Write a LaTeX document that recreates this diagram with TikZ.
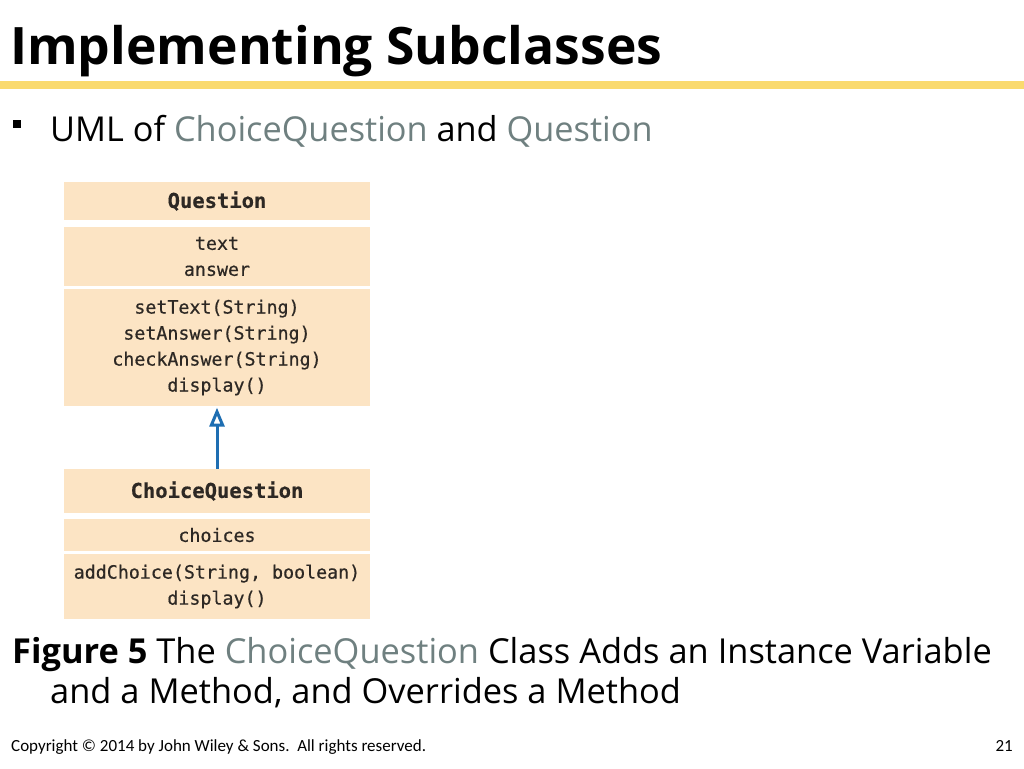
\documentclass[tikz,border=0pt]{standalone}
\usepackage{fontspec}
\setmainfont{Open Sans}
\newfontfamily\footfont{Carlito}
\newfontfamily\umlfont[FakeBold=0.6]{DejaVu Sans Mono}
\newfontfamily\umlboldfont[FakeBold=0.3]{DejaVu Sans Mono Bold}
\usetikzlibrary{arrows.meta}
\definecolor{peach}{RGB}{252,228,196}
\definecolor{greytxt}{RGB}{111,128,128}
\definecolor{rulecol}{RGB}{250,218,110}
\definecolor{umlblue}{RGB}{30,110,178}
\definecolor{umltxt}{RGB}{45,40,36}
\tikzset{
  umlbox/.style={fill=peach, draw=none, minimum width=306pt, inner sep=0pt,
    font=\umlfont\fontsize{18.3}{26}\selectfont, text=umltxt, align=center},
  umlhead/.style={umlbox, font=\umlboldfont\fontsize{20.5}{26}\selectfont},
  txt/.style={anchor=base west, inner sep=0pt},
}
\begin{document}
\begin{tikzpicture}[x=1pt,y=-1pt]
\useasboundingbox (0,0) rectangle (1024,768);
\fill[white] (0,0) rectangle (1024,768);
% title
\node[txt, font=\bfseries\fontsize{51.6}{60}\selectfont] (title) at (10,64) {Implementing Subclasses};
\fill[rulecol] (0,81) rectangle (1024,89);
% bullet
\fill[black] (13,120) rectangle (21,128);
\node[txt, font=\fontsize{34.3}{40}\selectfont] (bullet) at (50,141) {UML of \textcolor{greytxt}{ChoiceQuestion} and \textcolor{greytxt}{Question}};
% Question class
\node[umlhead, minimum height=38pt] (qh) at (217,201) {Question};
\node[umlbox, minimum height=59pt] (qa) at (217,256.5) {text\\answer};
\node[umlbox, minimum height=117pt] (qm) at (217,347.5) {setText(String)\\setAnswer(String)\\checkAnswer(String)\\display()};
% ChoiceQuestion class
\node[umlhead, minimum height=44pt] (ch) at (217,491) {ChoiceQuestion};
\node[umlbox, minimum height=32pt] (ca) at (217,535) {choices};
\node[umlbox, minimum height=65pt] (cm) at (217,586.5) {addChoice(String, boolean)\\display()};
% inheritance arrow
\draw[umlblue, line width=3pt, -{Triangle[open, width=15pt, length=19pt, line width=3pt]}, shorten >=1.5pt] (ch.north) -- (qm.south);
% caption
\node[txt, font=\fontsize{34.4}{40}\selectfont] (cap1) at (12,663) {\textbf{Figure 5} The \textcolor{greytxt}{ChoiceQuestion} Class Adds an Instance Variable};
\node[txt, font=\fontsize{34.4}{40}\selectfont] (cap2) at (50,703) {and a Method, and Overrides a Method};
% footer
\node[txt, font=\footfont\fontsize{17}{19}\selectfont] (foot) at (11,751) {Copyright \textcopyright{} 2014 by John Wiley \& Sons.\ \ All rights reserved.};
\node[anchor=base east, inner sep=0pt, font=\footfont\fontsize{17}{19}\selectfont] (page) at (1013,751) {21};
\end{tikzpicture}
\end{document}
